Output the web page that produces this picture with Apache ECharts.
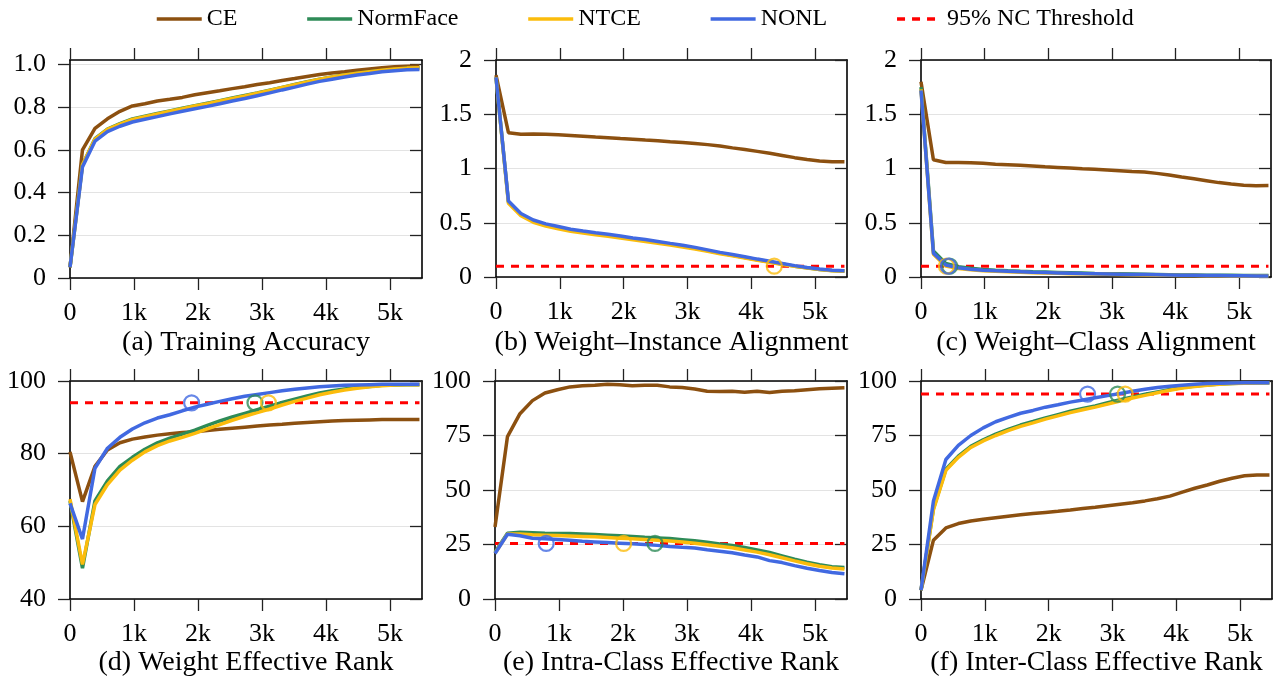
<!DOCTYPE html>
<html>
<head>
<meta charset="utf-8">
<script src="https://cdn.jsdelivr.net/npm/echarts@6/dist/echarts.min.js"></script>
<style>
  html, body { margin: 0; padding: 0; background: #fff; }
  #chart { width: 1287px; height: 681px; }
</style>
</head>
<body>
<div id="chart"></div>
<script>
// training steps (x axis)
var steps = [0,195,390,585,780,975,1170,1365,1560,1755,1950,2145,2340,2535,2730,2925,3120,3315,3510,3705,3900,4095,4290,4485,4680,4875,5070,5265,5460];
var xTicks = [0,1000,2000,3000,4000,5000];

// (a) training accuracy
var accCE   = [0.05,0.60,0.70,0.745,0.78,0.805,0.815,0.828,0.836,0.845,0.857,0.867,0.876,0.886,0.895,0.905,0.914,0.924,0.933,0.943,0.952,0.959,0.965,0.972,0.978,0.984,0.989,0.991,0.992];
var accNF   = [0.05,0.53,0.652,0.697,0.722,0.744,0.757,0.77,0.782,0.794,0.806,0.818,0.83,0.842,0.854,0.866,0.879,0.892,0.905,0.918,0.93,0.94,0.95,0.958,0.965,0.971,0.977,0.981,0.983];
var accNTCE = [0.05,0.53,0.65,0.695,0.72,0.742,0.755,0.768,0.78,0.792,0.805,0.816,0.828,0.84,0.852,0.865,0.878,0.891,0.904,0.917,0.93,0.94,0.95,0.958,0.965,0.972,0.978,0.982,0.984];
var accNONL = [0.05,0.52,0.64,0.685,0.71,0.73,0.743,0.755,0.768,0.78,0.792,0.803,0.815,0.828,0.84,0.853,0.866,0.88,0.893,0.907,0.92,0.93,0.94,0.95,0.957,0.965,0.97,0.974,0.976];

// (b) weight-instance alignment
var wiCE   = [1.86,1.33,1.315,1.318,1.315,1.31,1.305,1.298,1.29,1.283,1.276,1.27,1.262,1.255,1.247,1.24,1.23,1.22,1.208,1.19,1.175,1.158,1.14,1.12,1.1,1.083,1.07,1.063,1.062];
var wiNF   = [1.84,0.69,0.575,0.515,0.48,0.455,0.432,0.414,0.399,0.385,0.369,0.352,0.336,0.319,0.302,0.285,0.265,0.243,0.22,0.2,0.18,0.159,0.139,0.12,0.1,0.084,0.07,0.06,0.056];
var wiNTCE = [1.84,0.68,0.565,0.505,0.47,0.445,0.422,0.405,0.39,0.376,0.36,0.343,0.328,0.311,0.294,0.277,0.258,0.236,0.214,0.195,0.175,0.155,0.135,0.116,0.098,0.082,0.068,0.058,0.054];
var wiNONL = [1.84,0.70,0.585,0.525,0.49,0.465,0.44,0.423,0.408,0.394,0.378,0.36,0.345,0.328,0.31,0.293,0.273,0.25,0.227,0.207,0.187,0.165,0.145,0.125,0.105,0.088,0.073,0.063,0.058];

// (c) weight-class alignment
var wcCE   = [1.8,1.08,1.055,1.055,1.053,1.048,1.04,1.035,1.03,1.024,1.016,1.01,1.004,0.998,0.993,0.987,0.98,0.973,0.967,0.955,0.94,0.922,0.905,0.888,0.87,0.857,0.845,0.842,0.843];
var wcNF   = [1.75,0.24,0.125,0.095,0.08,0.07,0.063,0.057,0.052,0.048,0.045,0.042,0.039,0.036,0.033,0.031,0.029,0.027,0.025,0.023,0.021,0.019,0.018,0.017,0.016,0.015,0.014,0.013,0.013];
var wcNTCE = [1.73,0.21,0.10,0.078,0.066,0.058,0.052,0.048,0.044,0.04,0.037,0.034,0.031,0.029,0.027,0.025,0.023,0.021,0.019,0.017,0.016,0.014,0.013,0.012,0.011,0.01,0.009,0.009,0.009];
var wcNONL = [1.72,0.22,0.11,0.085,0.072,0.063,0.057,0.052,0.048,0.044,0.041,0.038,0.035,0.032,0.03,0.028,0.026,0.024,0.022,0.02,0.018,0.016,0.015,0.014,0.013,0.012,0.011,0.01,0.01];

// (d) weight effective rank
var wrCE   = [80.5,66.8,76.5,81,83,84,84.6,85.1,85.5,85.8,86,86.4,86.7,87,87.3,87.6,87.9,88.1,88.4,88.6,88.8,89,89.1,89.2,89.3,89.4,89.4,89.4,89.4];
var wrNF   = [67,48.5,67,72.5,76.5,79,81.2,83,84.3,85.4,86.5,87.8,89,90.1,91.1,92.1,93.1,94.1,95,95.9,96.7,97.3,97.8,98.2,98.5,98.8,98.9,99,99];
var wrNTCE = [67.5,49.5,66,71.5,75.5,78.2,80.5,82.2,83.5,84.5,85.6,86.8,88,89.2,90.3,91.3,92.3,93.4,94.4,95.3,96.2,96.9,97.5,98,98.4,98.7,98.9,99,99];
var wrNONL = [66.3,56.5,76,81.5,84.5,86.8,88.5,89.8,90.7,91.8,92.8,93.6,94.4,95.1,95.8,96.3,96.8,97.3,97.7,98.1,98.4,98.6,98.8,98.9,99,99.1,99.1,99.1,99.1];

// (e) intra-class effective rank
var irCE   = [33,74.5,85,91,94.5,96,97.3,97.8,98,98.5,98.3,97.8,98,98,97.3,97,96.3,95.3,95.2,95.3,94.8,95.3,94.7,95.3,95.5,96,96.4,96.7,96.9];
var irNF   = [21.5,30.2,30.6,30.4,30.2,30.1,30,29.8,29.6,29.3,29,28.7,28.3,28,27.7,27.2,26.7,26,25.2,24.6,23.6,22.5,21.3,19.8,18.3,16.9,15.7,14.8,14.5];
var irNTCE = [21,29.8,29.8,29.5,29.3,29.1,28.9,28.7,28.5,28.2,27.9,27.6,27.3,27,26.6,26.1,25.6,24.9,24.2,23.5,22.5,21.5,20.3,18.9,17.5,16.2,15,14.2,13.8];
var irNONL = [20.9,29.7,29,27.9,27.6,27.3,26.9,26.5,26.2,25.9,25.6,25.3,25,24.6,24.1,23.7,23.4,22.6,21.9,21.2,20.2,19.3,17.6,16.7,15.3,14.1,13.1,12.2,11.6];

// (f) inter-class effective rank
var erCE   = [4,27,32.6,34.6,35.8,36.6,37.3,38,38.6,39.2,39.7,40.2,40.8,41.5,42.1,42.8,43.5,44.2,45,46,47.2,49,50.8,52.3,54,55.4,56.5,56.9,56.9];
var erNF   = [4,41.5,59.5,65.5,70,73,75.6,77.8,79.8,81.4,83.1,84.6,86.1,87.4,88.6,90,91.4,92.7,93.9,95,96.1,97,97.7,98.2,98.6,98.9,99.1,99.2,99.2];
var erNTCE = [4,41,59,65,69.5,72.5,75,77.2,79.2,80.8,82.5,84,85.5,86.8,88,89.4,90.8,92.2,93.4,94.6,95.8,96.8,97.5,98.1,98.5,98.8,99,99.1,99.2];
var erNONL = [4,45,64,70.5,75,78.5,81.3,83.3,85.2,86.5,88,89.1,90.3,91.3,92.3,93.3,94.3,95.3,96.2,97,97.6,98.1,98.5,98.8,99,99.1,99.2,99.2,99.2];

// 95% NC threshold per panel (null = none)
var thresholds = [null, 0.1, 0.1, 94, 25.5, 94];

// circled crossing points [step, value] per method, per panel
var markNF   = [[], [], [[450, 0.1]], [[2890, 94]], [[2500, 25.5]], [[3080, 94]]];
var markNTCE = [[], [[4360, 0.1]], [[400, 0.1]], [[3100, 94]], [[2010, 25.5]], [[3200, 94]]];
var markNONL = [[], [], [[430, 0.1]], [[1900, 94]], [[800, 25.5]], [[2610, 94]]];

var captions = ['(a) Training Accuracy', '(b) Weight\u2013Instance Alignment', '(c) Weight\u2013Class Alignment',
                '(d) Weight Effective Rank', '(e) Intra-Class Effective Rank', '(f) Inter-Class Effective Rank'];

var yMin = [0, 0, 0, 40, 0, 0];
var yMax = [1.02, 2, 2, 100, 100, 100];
var yStep = [0.2, 0.5, 0.5, 20, 25, 25];
var yTicks = [[0,0.2,0.4,0.6,0.8,1.0],[0,0.5,1,1.5,2],[0,0.5,1,1.5,2],[40,60,80,100],[0,25,50,75,100],[0,25,50,75,100]];

var panelData = [
  [accCE, accNF, accNTCE, accNONL],
  [wiCE, wiNF, wiNTCE, wiNONL],
  [wcCE, wcNF, wcNTCE, wcNONL],
  [wrCE, wrNF, wrNTCE, wrNONL],
  [irCE, irNF, irNTCE, irNONL],
  [erCE, erNF, erNTCE, erNONL]
];

var names = ['CE', 'NormFace', 'NTCE', 'NONL'];
var colors = ['#8c5010', '#2e8b57', '#fbbc0c', '#4169e1'];
var red = '#ff0000';
var FONT = 'Liberation Serif';

// layout of the six plot boxes
var boxes = [
  {left: 70,  top: 60,  width: 352, height: 218},
  {left: 496, top: 60,  width: 351, height: 217},
  {left: 921, top: 60,  width: 350, height: 217},
  {left: 70,  top: 381, width: 352, height: 218},
  {left: 495, top: 381, width: 352, height: 218},
  {left: 921, top: 381, width: 351, height: 218}
];

function pairs(ys) {
  var out = [];
  for (var i = 0; i < ys.length; i++) out.push([steps[i], ys[i]]);
  return out;
}

var grid = [], xAxis = [], yAxis = [], series = [], graphic = [];
var axisLine = {onZero: false, lineStyle: {color: '#000', width: 1.6}};
function tick(vals, inside) {
  return {customValues: vals, inside: inside, length: 12, lineStyle: {color: '#222', width: 1.3}};
}

boxes.forEach(function (b, p) {
  grid.push(b);
  var ylab = function (v) {
    if (p === 0) return v === 0 ? '0' : v.toFixed(1);
    return String(v);
  };
  // bottom + top x axes
  xAxis.push({
    type: 'value', gridIndex: p, min: 0, max: 5500, interval: 1000, position: 'bottom',
    axisLine: axisLine,
    axisTick: tick(xTicks, false),
    axisLabel: {customValues: xTicks, margin: 22, color: '#000', fontFamily: FONT, fontSize: 26,
      formatter: function (v) { return v === 0 ? '0' : (v / 1000) + 'k'; }},
    splitLine: {show: false}
  });
  xAxis.push({
    type: 'value', gridIndex: p, min: 0, max: 5500, interval: 1000, position: 'top',
    axisLine: axisLine,
    axisTick: tick(xTicks, false),
    axisLabel: {show: false}, splitLine: {show: false}
  });
  // left + right y axes
  yAxis.push({
    type: 'value', gridIndex: p, min: yMin[p], max: yMax[p], interval: yStep[p], position: 'left',
    axisLine: axisLine,
    axisTick: tick(yTicks[p], false),
    axisLabel: {customValues: yTicks[p], margin: 24, color: '#000', fontFamily: FONT, fontSize: 26, formatter: ylab},
    splitLine: {show: true, lineStyle: {color: '#e3e3e3', width: 1.2}}
  });
  yAxis.push({
    type: 'value', gridIndex: p, min: yMin[p], max: yMax[p], interval: yStep[p], position: 'right',
    axisLine: axisLine,
    axisTick: tick(yTicks[p], true),
    axisLabel: {show: false}, splitLine: {show: false}
  });

  var xi = 2 * p, yi = 2 * p;
  panelData[p].forEach(function (ys, k) {
    series.push({
      name: names[k], type: 'line', xAxisIndex: xi, yAxisIndex: yi,
      data: pairs(ys), symbol: 'none', z: 3 + k,
      lineStyle: {color: colors[k], width: 3.5}, itemStyle: {color: colors[k]}
    });
  });
  if (thresholds[p] !== null) {
    series.push({
      name: '95% NC Threshold', type: 'line', xAxisIndex: xi, yAxisIndex: yi,
      data: [[steps[0], thresholds[p]], [steps[steps.length - 1], thresholds[p]]],
      symbol: 'none', z: 2,
      lineStyle: {color: red, width: 3, type: [8, 7]}, itemStyle: {color: red}
    });
  }
  [[markNF, 1], [markNTCE, 2], [markNONL, 3]].forEach(function (m) {
    if (m[0][p].length) {
      series.push({
        type: 'scatter', xAxisIndex: xi, yAxisIndex: yi, data: m[0][p],
        symbol: 'circle', symbolSize: 15, z: 10, silent: true,
        itemStyle: {color: 'rgba(0,0,0,0)', borderColor: colors[m[1]], borderWidth: 2.2}
      });
    }
  });

  graphic.push({
    type: 'text', x: b.left + b.width / 2, y: (p < 3 ? 343 : 663),
    style: {text: captions[p], font: '28px "' + FONT + '"', fill: '#000', textAlign: 'center', textVerticalAlign: 'middle'}
  });
});

var myChart = echarts.init(document.getElementById('chart'));
myChart.setOption({
  animation: false,
  legend: {
    data: ['CE', 'NormFace', 'NTCE', 'NONL', '95% NC Threshold'],
    left: 155, top: 7, padding: 0, itemWidth: 45, itemHeight: 14, itemGap: 68,
    itemStyle: {opacity: 0},
    lineStyle: {width: 3.5},
    textStyle: {fontFamily: FONT, fontSize: 24, color: '#000'}
  },
  grid: grid,
  xAxis: xAxis,
  yAxis: yAxis,
  series: series,
  graphic: graphic
});
</script>
</body>
</html>
